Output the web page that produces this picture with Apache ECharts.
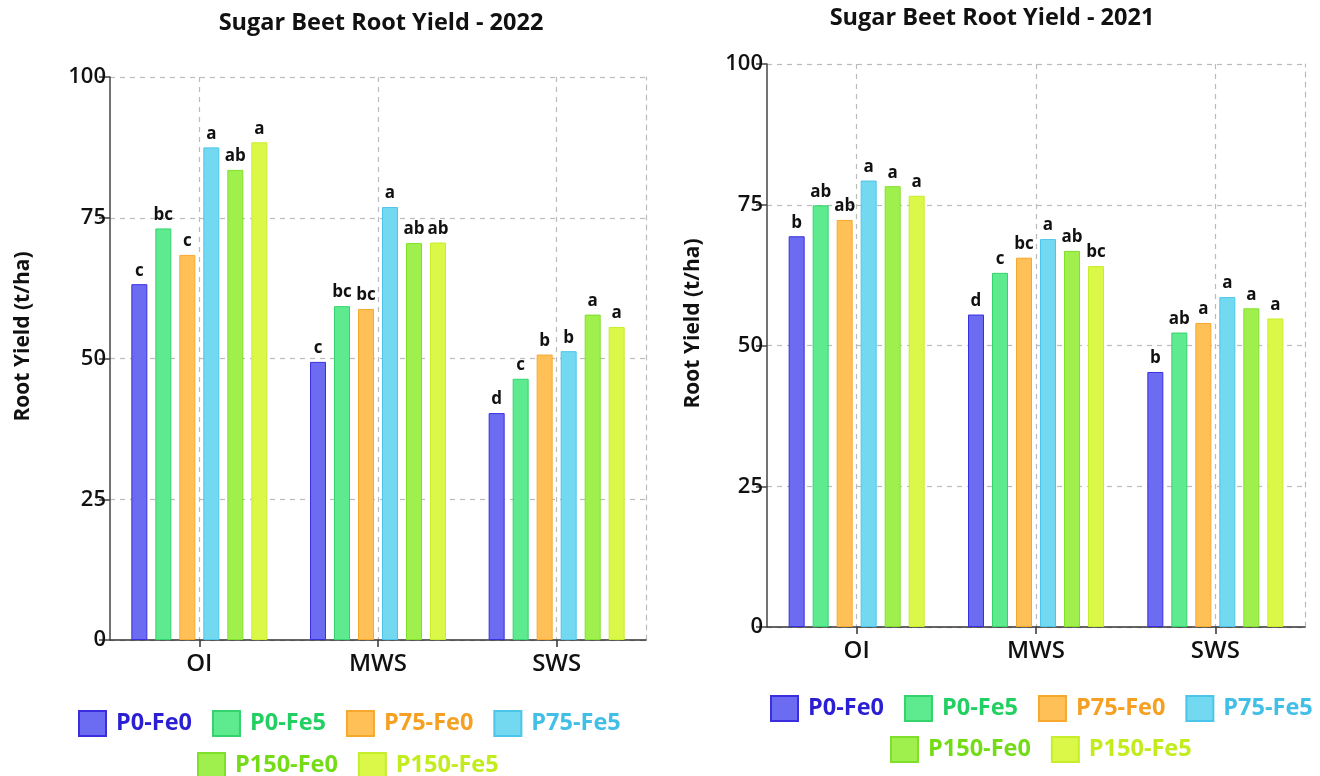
<!DOCTYPE html>
<html><head><meta charset="utf-8">
<script src="https://cdn.jsdelivr.net/npm/echarts@6/dist/echarts.min.js"></script>
<style>html,body{margin:0;padding:0;background:#fff}#c{width:1320px;height:776px}</style>
</head><body><div id="c"></div>
<script>
// ---- data ----
const categories = ['OI', 'MWS', 'SWS'];
const seriesNames = ['P0-Fe0', 'P0-Fe5', 'P75-Fe0', 'P75-Fe5', 'P150-Fe0', 'P150-Fe5'];
const titles = ['Sugar Beet Root Yield - 2022', 'Sugar Beet Root Yield - 2021'];
const yAxisName = 'Root Yield (t/ha)';

// 2022 root yield (t/ha), per treatment, order: OI, MWS, SWS
const y2022_P0Fe0   = [63.2, 49.4, 40.3];
const y2022_P0Fe5   = [73.1, 59.3, 46.4];
const y2022_P75Fe0  = [68.4, 58.8, 50.7];
const y2022_P75Fe5  = [87.5, 76.9, 51.3];
const y2022_P150Fe0 = [83.5, 70.5, 57.8];
const y2022_P150Fe5 = [88.4, 70.6, 55.6];
// 2022 significance letters
const l2022_P0Fe0   = ['c', 'c', 'd'];
const l2022_P0Fe5   = ['bc', 'bc', 'c'];
const l2022_P75Fe0  = ['c', 'bc', 'b'];
const l2022_P75Fe5  = ['a', 'a', 'b'];
const l2022_P150Fe0 = ['ab', 'ab', 'a'];
const l2022_P150Fe5 = ['a', 'ab', 'a'];

// 2021 root yield (t/ha)
const y2021_P0Fe0   = [69.4, 55.5, 45.3];
const y2021_P0Fe5   = [74.9, 62.9, 52.3];
const y2021_P75Fe0  = [72.3, 65.6, 54.0];
const y2021_P75Fe5  = [79.3, 68.9, 58.6];
const y2021_P150Fe0 = [78.3, 66.8, 56.6];
const y2021_P150Fe5 = [76.6, 64.1, 54.8];
// 2021 significance letters
const l2021_P0Fe0   = ['b', 'd', 'b'];
const l2021_P0Fe5   = ['ab', 'c', 'ab'];
const l2021_P75Fe0  = ['ab', 'bc', 'a'];
const l2021_P75Fe5  = ['a', 'a', 'a'];
const l2021_P150Fe0 = ['a', 'ab', 'a'];
const l2021_P150Fe5 = ['a', 'bc', 'a'];

// ---- styles ----
const FONT = 'Open Sans';
const fills   = ['#6c6cf2', '#5eea8f', '#ffc157', '#73d9f1', '#a0f04d', '#dbf747'];
const borders = ['#3a2ee0', '#33d46c', '#f6a92c', '#4cc5ea', '#7fe02c', '#c6ee2b'];
const legendText = ['#2b1fd4', '#22cf62', '#f6a023', '#42bfe7', '#74dc17', '#c2ec1d'];

const vals2022 = [y2022_P0Fe0, y2022_P0Fe5, y2022_P75Fe0, y2022_P75Fe5, y2022_P150Fe0, y2022_P150Fe5];
const lets2022 = [l2022_P0Fe0, l2022_P0Fe5, l2022_P75Fe0, l2022_P75Fe5, l2022_P150Fe0, l2022_P150Fe5];
const vals2021 = [y2021_P0Fe0, y2021_P0Fe5, y2021_P75Fe0, y2021_P75Fe5, y2021_P150Fe0, y2021_P150Fe5];
const lets2021 = [l2021_P0Fe0, l2021_P0Fe5, l2021_P75Fe0, l2021_P75Fe5, l2021_P150Fe0, l2021_P150Fe5];

const grids = [
  { left: 110, top: 77, width: 536, height: 563 },
  { left: 767, top: 64, width: 538, height: 563 }
];

function makeSeries(vals, lets, g) {
  return seriesNames.map((name, i) => ({
    name: name,
    type: 'bar',
    xAxisIndex: g,
    yAxisIndex: g * 2,
    barWidth: 16,
    barGap: '50%',
    data: vals[i],
    itemStyle: { color: fills[i], borderColor: borders[i], borderWidth: 1 },
    label: {
      show: true, position: 'top', distance: 5,
      fontFamily: FONT, fontWeight: 'bold', fontSize: 17, color: '#111',
      formatter: p => lets[i][p.dataIndex]
    }
  }));
}

function xAxis(g) {
  return {
    type: 'category', gridIndex: g, data: categories,
    axisLine: { show: true, lineStyle: { color: '#333', width: 1.5 } },
    axisTick: { show: true, alignWithLabel: true, length: 7, lineStyle: { color: '#333', width: 1.5 } },
    axisLabel: { fontFamily: FONT, fontSize: 24, fontWeight: 600, color: '#111', margin: 12 },
    splitLine: { show: true, alignWithLabel: true, interval: 0, lineStyle: { color: '#bbb', type: [5, 5], width: 1.2 } }
  };
}
function yAxes(g, gap) {
  return [{
    type: 'value', gridIndex: g, min: 0, max: 100, interval: 25,
    name: yAxisName, nameLocation: 'middle', nameGap: gap, nameRotate: 90,
    nameTextStyle: { fontFamily: FONT, fontSize: 21, fontWeight: 'bold', color: '#111', padding: [0, 0, 0, 44] },
    axisLine: { show: true, lineStyle: { color: '#444', width: 1.5 } },
    axisTick: { show: true, length: 11, lineStyle: { color: '#444', width: 1.5 } },
    axisLabel: { fontFamily: FONT, fontSize: 22, fontWeight: 600, color: '#111', margin: 4 },
    splitLine: { show: true, lineStyle: { color: '#bbb', type: [5, 5], width: 1.2 } }
  }, {
    type: 'value', gridIndex: g, min: 0, max: 100, interval: 25, position: 'right',
    axisLine: { show: true, lineStyle: { color: '#bbb', type: [5, 5], width: 1.2 } },
    axisTick: { show: false }, axisLabel: { show: false }, splitLine: { show: false }
  }];
}

function legend(names, left, top) {
  return {
    left: left, top: top, width: 620, orient: 'horizontal',
    itemWidth: 27, itemHeight: 25, itemGap: 20, icon: 'rect', selectedMode: false,
    data: names.map(n => {
      const i = seriesNames.indexOf(n);
      return { name: n, textStyle: { color: legendText[i] } };
    }),
    textStyle: { fontFamily: FONT, fontSize: 23.5, fontWeight: 'bold', padding: [0, 0, 0, 5] }
  };
}

const option = {
  animation: false,
  backgroundColor: '#fff',
  title: [
    { text: titles[0], left: 376, top: 6, textAlign: 'center',
      textStyle: { fontFamily: FONT, fontSize: 23.5, fontWeight: 'bold', color: '#111' } },
    { text: titles[1], left: 987, top: 1, textAlign: 'center',
      textStyle: { fontFamily: FONT, fontSize: 23.5, fontWeight: 'bold', color: '#111' } }
  ],
  legend: [
    legend(seriesNames.slice(0, 4), 73, 705),
    legend(seriesNames.slice(4), 192, 747),
    legend(seriesNames.slice(0, 4), 765, 690),
    legend(seriesNames.slice(4), 885, 731)
  ],
  grid: grids,
  xAxis: [xAxis(0), xAxis(1)],
  yAxis: [...yAxes(0, 76), ...yAxes(1, 63)],
  series: [...makeSeries(vals2022, lets2022, 0), ...makeSeries(vals2021, lets2021, 1)]
};

const chart = echarts.init(document.getElementById('c'), null, { renderer: 'canvas' });
chart.setOption(option);
</script>
</body></html>
